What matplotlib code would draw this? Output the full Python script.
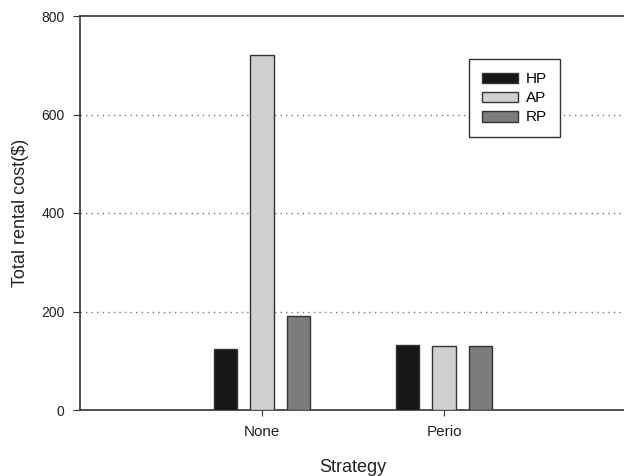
import numpy as np
import matplotlib.pyplot as plt

plt.rcParams['font.family'] = ['Liberation Sans', 'DejaVu Sans']

strategies = ['None', 'Perio']
series = ['HP', 'AP', 'RP']
hp = [124, 132]
ap = [721, 129]
rp = [191, 129]
colors = ['#161616', '#d0d0d0', '#7c7c7c']

fig = plt.figure(figsize=(6.24, 4.76), dpi=100)
ax = fig.add_axes([80/624, 66/476, 546/624, 394/476])

x = np.arange(len(strategies))
width = 0.13
for i, (vals, name) in enumerate(zip([hp, ap, rp], series)):
    ax.bar(x + (i - 1) * 0.2, vals, width, color=colors[i], edgecolor='#333333',
           linewidth=1.0, label=name, zorder=3)

ax.set_xlim(-1, 2)
ax.set_ylim(0, 800)
ax.set_yticks([0, 200, 400, 600, 800])
ax.set_xticks(x)
ax.set_xticklabels(strategies)
for y in [200, 400, 600]:
    ax.axhline(y, color='#777777', linestyle=(0, (1, 3)), linewidth=1.0, zorder=1)

for s in ['left', 'bottom', 'top', 'right']:
    ax.spines[s].set_color('#333333')
    ax.spines[s].set_linewidth(1.2)
ax.tick_params(axis='y', direction='out', length=5, labelsize=10, colors='#333333',
               labelcolor='#222222', pad=6)
ax.tick_params(axis='x', direction='out', length=4, labelsize=11, colors='#333333',
               labelcolor='#222222', pad=7)

ax.set_ylabel('Total rental cost($)', fontsize=13, color='#222222', labelpad=9)
ax.set_xlabel('Strategy', fontsize=13, color='#222222', labelpad=14)

leg = ax.legend(loc='upper left', bbox_to_anchor=(0.712, 0.89), fontsize=11,
                frameon=True, fancybox=False, handlelength=2.35, handleheight=0.72,
                labelspacing=0.33, borderpad=0.85, handletextpad=0.55, borderaxespad=0)
leg.get_frame().set_edgecolor('#333333')
leg.get_frame().set_linewidth(1.0)
leg.get_frame().set_alpha(1)

fig.savefig('out.png', dpi=100)
